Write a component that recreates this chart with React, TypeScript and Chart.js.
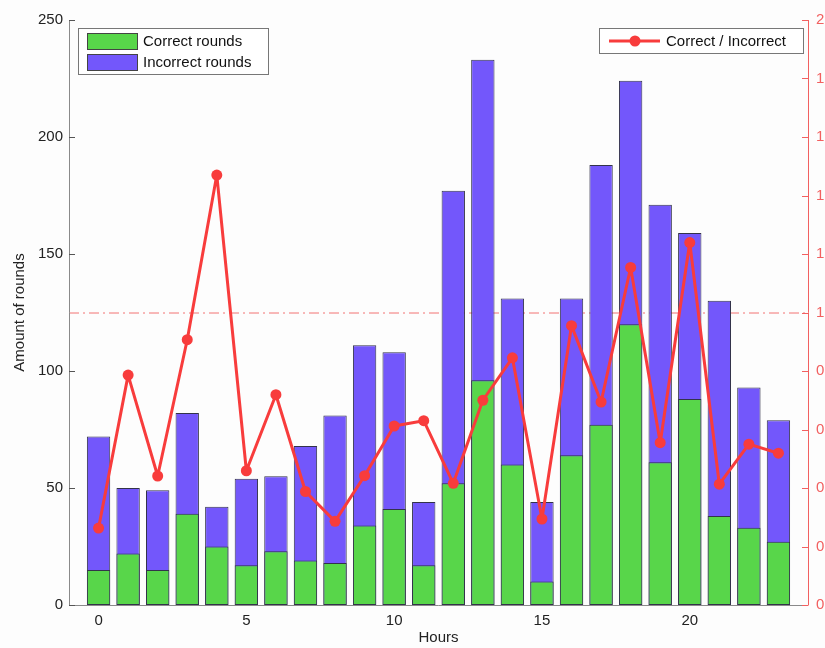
import React, { useEffect, useRef } from "react";
import { Chart, registerables } from "chart.js";

Chart.register(...registerables);

const hours = [0, 1, 2, 3, 4, 5, 6, 7, 8, 9, 10, 11, 12, 13, 14, 15, 16, 17, 18, 19, 20, 21, 22, 23];
const correctRounds = [15, 22, 15, 39, 25, 17, 23, 19, 18, 34, 41, 17, 52, 96, 60, 10, 64, 77, 120, 61, 88, 38, 33, 27];
const totalRounds = [72, 50, 49, 82, 42, 54, 55, 68, 81, 111, 108, 44, 177, 233, 131, 44, 131, 188, 224, 171, 159, 130, 93, 79];
const ratio = [0.263, 0.786, 0.441, 0.907, 1.47, 0.459, 0.719, 0.388, 0.286, 0.442, 0.612, 0.63, 0.416, 0.70, 0.845, 0.294, 0.955, 0.694, 1.154, 0.555, 1.239, 0.413, 0.55, 0.519];
const xTicks = [0, 5, 10, 15, 20];
const leftTicks = [0, 50, 100, 150, 200, 250];
const rightTicks = [0, 0.2, 0.4, 0.6, 0.8, 1.0, 1.2, 1.4, 1.6, 1.8, 2.0];
const referenceRatio = 1;

const GREEN = "#58d64a";
const PURPLE = "#7357fb";
const RED = "#f83c3c";
const AXIS_RED = "#f26060";
const FONT = "Liberation Sans, Arial, sans-serif";

const overlayPlugin = {
  id: "overlay",
  beforeDatasetsDraw(chart: any) {
    const { ctx, chartArea } = chart;
    const y1 = chart.scales.y1;
    const yp = y1.getPixelForValue(referenceRatio);
    ctx.save();
    ctx.strokeStyle = "rgba(240,90,90,0.85)";
    ctx.lineWidth = 1;
    ctx.setLineDash([10, 4, 2, 4]);
    ctx.beginPath();
    ctx.moveTo(chartArea.left, yp + 0.5);
    ctx.lineTo(chartArea.right, yp + 0.5);
    ctx.stroke();
    ctx.restore();
  },
  afterDraw(chart: any) {
    const { ctx, chartArea } = chart;
    const y = chart.scales.y;
    const y1 = chart.scales.y1;
    ctx.save();
    ctx.lineWidth = 1;
    ctx.strokeStyle = "#8a8a8a";
    ctx.beginPath();
    ctx.moveTo(chartArea.left + 0.5, chartArea.top);
    ctx.lineTo(chartArea.left + 0.5, chartArea.bottom + 0.5);
    ctx.lineTo(chartArea.right, chartArea.bottom + 0.5);
    ctx.stroke();
    ctx.strokeStyle = "#555";
    leftTicks.forEach((v) => {
      const p = Math.round(y.getPixelForValue(v)) + 0.5;
      ctx.beginPath();
      ctx.moveTo(chartArea.left, p);
      ctx.lineTo(chartArea.left + 6, p);
      ctx.stroke();
    });
    ctx.strokeStyle = AXIS_RED;
    ctx.beginPath();
    ctx.moveTo(chartArea.right + 0.5, chartArea.top);
    ctx.lineTo(chartArea.right + 0.5, chartArea.bottom + 0.5);
    ctx.stroke();
    rightTicks.forEach((v) => {
      const p = Math.round(y1.getPixelForValue(v)) + 0.5;
      ctx.beginPath();
      ctx.moveTo(chartArea.right - 6, p);
      ctx.lineTo(chartArea.right, p);
      ctx.stroke();
    });

    const ds0 = chart.data.datasets[0];
    const ds1 = chart.data.datasets[1];
    const ds2 = chart.data.datasets[2];
    ctx.font = "15px " + FONT;
    ctx.textBaseline = "middle";
    ctx.textAlign = "left";
    ctx.fillStyle = "#ffffff";
    ctx.strokeStyle = "#777";
    ctx.fillRect(78, 28, 190, 46);
    ctx.strokeRect(78.5, 28.5, 190, 46);
    [ds0, ds1].forEach((d: any, i: number) => {
      const top = 33 + i * 21;
      ctx.fillStyle = d.backgroundColor;
      ctx.fillRect(87, top, 50, 16);
      ctx.strokeStyle = "#444";
      ctx.strokeRect(87.5, top + 0.5, 50, 16);
      ctx.fillStyle = "#111";
      ctx.fillText(d.label, 143, top + 8.5);
    });
    ctx.fillStyle = "#ffffff";
    ctx.strokeStyle = "#777";
    ctx.fillRect(599, 28, 204, 25);
    ctx.strokeRect(599.5, 28.5, 204, 25);
    ctx.strokeStyle = ds2.borderColor;
    ctx.lineWidth = 3;
    ctx.beginPath();
    ctx.moveTo(609, 41);
    ctx.lineTo(660, 41);
    ctx.stroke();
    ctx.fillStyle = ds2.borderColor;
    ctx.beginPath();
    ctx.arc(635, 41, 5.5, 0, Math.PI * 2);
    ctx.fill();
    ctx.fillStyle = "#111";
    ctx.fillText(ds2.label, 666, 41.5);
    ctx.restore();
  },
};

export default function App() {
  const ref = useRef<HTMLCanvasElement | null>(null);
  useEffect(() => {
    if (!ref.current) return;
    const chart = new Chart(ref.current, {
      type: "bar",
      data: {
        datasets: [
          {
            type: "bar",
            label: "Correct rounds",
            data: hours.map((h, i) => ({ x: h, y: correctRounds[i] })),
            backgroundColor: GREEN,
            borderColor: "#33334a",
            borderWidth: 1,
            borderSkipped: false,
            barPercentage: 0.79,
            categoryPercentage: 1,
            grouped: false,
            yAxisID: "y",
            order: 1,
          } as any,
          {
            type: "bar",
            label: "Incorrect rounds",
            data: hours.map((h, i) => ({ x: h, y: totalRounds[i] })),
            backgroundColor: PURPLE,
            borderColor: "#33334a",
            borderWidth: 1,
            borderSkipped: false,
            barPercentage: 0.79,
            categoryPercentage: 1,
            grouped: false,
            yAxisID: "y",
            order: 2,
          } as any,
          {
            type: "line",
            label: "Correct / Incorrect",
            data: hours.map((h, i) => ({ x: h, y: ratio[i] })),
            borderColor: RED,
            backgroundColor: RED,
            borderWidth: 3,
            borderJoinStyle: "round",
            pointRadius: 5.5,
            pointBackgroundColor: RED,
            pointBorderWidth: 0,
            tension: 0,
            yAxisID: "y1",
            order: 0,
          } as any,
        ],
      },
      options: {
        animation: false,
        responsive: false,
        maintainAspectRatio: false,
        layout: { padding: { top: 20, left: 0, right: 0, bottom: 0 } },
        plugins: { legend: { display: false }, tooltip: { enabled: false } },
        scales: {
          x: {
            type: "linear",
            min: -1,
            max: 24,
            stacked: true,
            offset: false,
            grid: { display: false, drawTicks: false },
            border: { display: false },
            afterBuildTicks: (s: any) => {
              s.ticks = xTicks.map((v) => ({ value: v }));
            },
            afterFit: (s: any) => {
              s.height = 43;
            },
            ticks: {
              color: "#222",
              font: { size: 15, family: FONT },
              padding: 7,
              maxRotation: 0,
              autoSkip: false,
            },
            title: {
              display: true,
              text: "Hours",
              color: "#222",
              font: { size: 15, family: FONT },
              padding: { top: 0, bottom: 1 },
            },
          },
          y: {
            type: "linear",
            position: "left",
            min: 0,
            max: 250,
            stacked: false,
            grid: { display: false, drawTicks: false },
            border: { display: false },
            afterBuildTicks: (s: any) => {
              s.ticks = leftTicks.map((v) => ({ value: v }));
            },
            afterFit: (s: any) => {
              s.width = 69;
            },
            ticks: {
              color: "#222",
              font: { size: 15, family: FONT },
              padding: 6,
            },
            title: {
              display: true,
              text: "Amount of rounds",
              color: "#222",
              font: { size: 15, family: FONT },
              padding: { top: 11, bottom: 0 },
            },
          },
          y1: {
            type: "linear",
            position: "right",
            min: 0,
            max: 2,
            grid: { display: false, drawTicks: false },
            border: { display: false },
            afterBuildTicks: (s: any) => {
              s.ticks = rightTicks.map((v) => ({ value: v }));
            },
            afterFit: (s: any) => {
              s.width = 17;
            },
            ticks: {
              color: AXIS_RED,
              font: { size: 15, family: FONT },
              padding: 8,
              callback: (v: any) => String(Math.floor(Number(v) + 1e-9)),
            },
          },
        },
      } as any,
      plugins: [overlayPlugin],
    });
    return () => chart.destroy();
  }, []);
  return (
    <div style={{ position: "fixed", left: 0, top: 0, width: 825, height: 648, background: "#fdfdfd" }}>
      <canvas ref={ref} width={825} height={648} style={{ width: 825, height: 648 }} />
    </div>
  );
}
